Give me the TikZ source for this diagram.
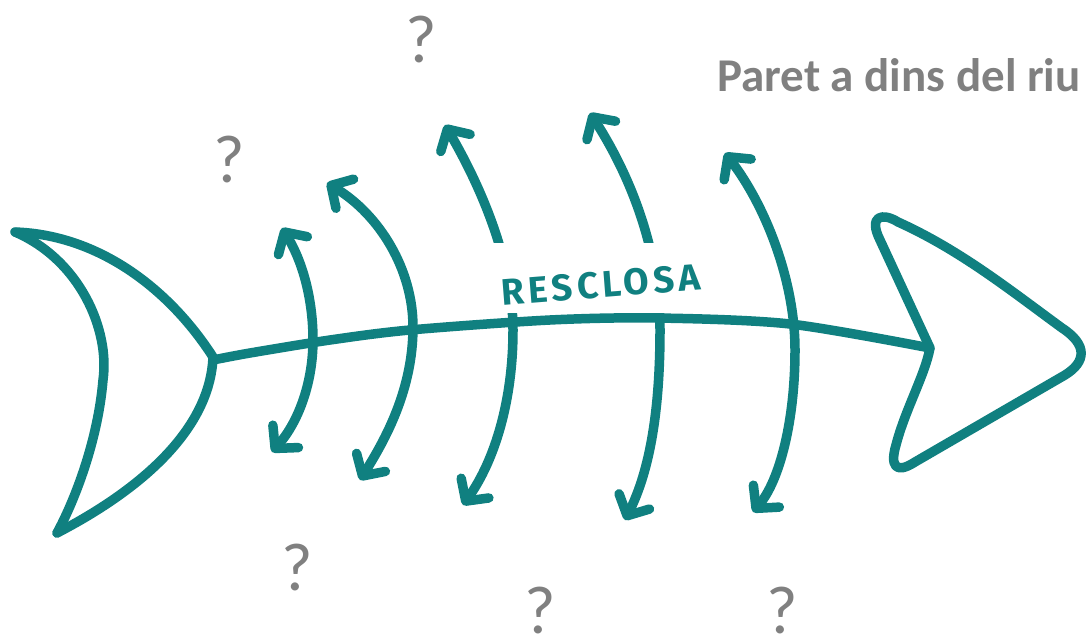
\documentclass[tikz,border=0pt]{standalone}
\usepackage{fontspec}
\setmainfont{Carlito}
\newfontfamily\letterfont[LetterSpace=11]{Fira Sans}
\usetikzlibrary{arrows.meta}
\definecolor{fishteal}{RGB}{16,128,128}
\definecolor{qgray}{RGB}{128,128,128}
\begin{document}
\begin{tikzpicture}[x=1pt,y=-1pt,
  fishline/.style={draw=fishteal,line width=9.5pt,line cap=round,line join=round},
  bonetip/.tip={Straight Barb[length=16pt,width=34pt,round]},
  bone/.style={fishline,bonetip-bonetip},
  qmark/.style={text=qgray,font=\fontsize{68}{70}\selectfont,inner sep=0pt},
  title/.style={text=qgray,font=\bfseries\fontsize{47}{50}\selectfont,inner sep=0pt},
  labelbox/.style={fill=white,draw=none,minimum width=222pt,minimum height=70pt,inner sep=0pt},
  labeltext/.style={text=fishteal,font=\letterfont\bfseries\fontsize{37}{40}\selectfont,inner sep=0pt,rotate=4.5}]
\useasboundingbox (0,0) rectangle (1092,639);
% tail
\draw[fishline] (15,232) .. controls (80,260) and (110,330) .. (103,380)
  .. controls (98,440) and (75,500) .. (57,533);
\draw[fishline] (15,232) .. controls (100,235) and (170,290) .. (213,357)
  .. controls (210,430) and (140,490) .. (57,533);
% spine
\draw[fishline] plot[smooth] coordinates {(213,360) (250,353) (330,340) (410,330) (550,320) (657,318) (790,324) (930,348)};
% head
\draw[fishline] (930,348) -- (880,240) .. controls (868,216) and (882,212) .. (898,222)
  .. controls (960,250) and (1010,290) .. (1062,328)
  .. controls (1088,345) and (1086,362) .. (1065,375)
  -- (915,462) .. controls (895,475) and (890,465) .. (896,445)
  .. controls (905,410) and (925,375) .. cycle;
% bones
\draw[bone] (282,228) .. controls (303,262) and (313,300) .. (313,340) .. controls (313,380) and (300,420) .. (272,452);
\draw[bone] (327,183) .. controls (380,215) and (413,270) .. (413,327) .. controls (413,390) and (385,440) .. (360,480);
\draw[bone] (445,125) .. controls (480,185) and (513,260) .. (513,330) .. controls (513,400) and (495,460) .. (463,505);
\draw[bone] (590,113) .. controls (630,175) and (660,250) .. (660,330) .. controls (660,410) and (650,470) .. (625,520);
\draw[bone] (725,153) .. controls (765,205) and (795,280) .. (795,350) .. controls (795,420) and (780,480) .. (753,512);
% label
\node[labelbox] (box) at (596,278) {};
\node[labeltext] (lbl) at (601,285) {RESCLOSA};
% texts
\node[title,anchor=base west] (title) at (717,92) {Paret a dins del riu};
\node[qmark] (q1) at (421,40) {?};
\node[qmark] (q2) at (229,160) {?};
\node[qmark] (q3) at (297,568) {?};
\node[qmark] (q4) at (540,611) {?};
\node[qmark] (q5) at (782,611) {?};
\end{tikzpicture}
\end{document}
